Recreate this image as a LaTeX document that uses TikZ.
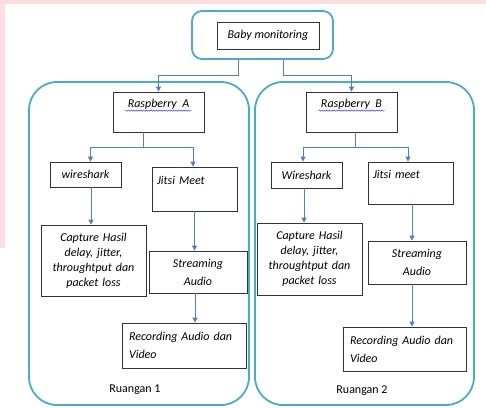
\documentclass[tikz,border=0pt]{standalone}
\usepackage{fontspec}
\setmainfont{Carlito}
\usetikzlibrary{arrows.meta,decorations.pathmorphing}
\definecolor{roomcyan}{RGB}{75,172,198}
\definecolor{linkblue}{RGB}{79,129,189}
\definecolor{pagepink}{RGB}{255,221,224}

\begin{document}
\begin{tikzpicture}[x=1pt, y=-1pt,
    every node/.style={font=\itshape\fontsize{12}{18}\selectfont},
    box/.style={draw=black!80, line width=0.8pt, inner sep=0pt, align=center},
    room/.style={draw=roomcyan, line width=1.8pt, rounded corners=28pt},
    link/.style={draw=linkblue, line width=1pt, -{Triangle[width=5pt,length=5pt]}},
    squig/.style={draw=blue!70, line width=0.5pt, decorate,
      decoration={snake, amplitude=0.7pt, segment length=2.5pt}}]
  \useasboundingbox (0,0) rectangle (486,407);
  % page background with pink edge
  \fill[white] (0,0) rectangle (486,407);
  \fill[pagepink] (0,0) rectangle (486,4);
  \fill[pagepink] (0,0) rectangle (5,248);
  % top box
  \node[draw=roomcyan, line width=1.8pt, rounded corners=10pt,
    minimum width=141, minimum height=48] (top) at (262.5,35) {};
  \node[box, minimum width=102, minimum height=27] (baby) at (268,35.5) {Baby monitoring};
  % room boxes
  \node[room, minimum width=220, minimum height=323] (roomA) at (139,243.5) {};
  \node[room, minimum width=219, minimum height=323] (roomB) at (364.5,243.5) {};
  \node[font=\fontsize{12}{14}\selectfont] (labA) at (135,390) {Ruangan 1};
  \node[font=\fontsize{12}{14}\selectfont] (labB) at (362,391) {Ruangan 2};
  % Ruangan 1
  \node[box, minimum width=91, minimum height=40] (rA) at (158.5,112) {Raspberry\ \ A\\ \mbox{}};
  \draw[squig] ([xshift=-33pt,yshift=-19pt]rA.north) -- ++(66,0);
  \node[box, minimum width=71, minimum height=25] (ws1) at (85.5,174.5) {wireshark};
  \node[box, minimum width=85, minimum height=44, text width=75, align=left] (jm1) at (194.5,189) {Jitsi Meet\\ \mbox{}};
  \node[box, minimum width=105, minimum height=71, text width=100,
    font=\itshape\fontsize{12}{15}\selectfont] (cap1) at (93.5,260.5)
    {Capture Hasil\\ delay, jitter,\\ throughtput dan\\ packet loss};
  \node[box, minimum width=98, minimum height=42, text width=90] (st1) at (198,272) {Streaming\\ Audio};
  \node[box, minimum width=124, minimum height=45, text width=110, align=left] (rec1) at (184,345.5)
    {Recording Audio dan\\ Video};
  % Ruangan 2
  \node[box, minimum width=91, minimum height=40] (rB) at (351.5,112) {Raspberry\ \ B\\ \mbox{}};
  \draw[squig] ([xshift=-33pt,yshift=-19pt]rB.north) -- ++(66,0);
  \node[box, minimum width=71, minimum height=26] (ws2) at (306.5,175) {Wireshark};
  \node[box, minimum width=85, minimum height=42, text width=75, align=left] (jm2) at (410.5,183) {Jitsi meet\\ \mbox{}};
  \node[box, minimum width=105, minimum height=72, text width=100,
    font=\itshape\fontsize{12}{15}\selectfont] (cap2) at (309.5,259)
    {Capture Hasil\\ delay, jitter,\\ throughtput dan\\ packet loss};
  \node[box, minimum width=98, minimum height=43, text width=90] (st2) at (417,262.5) {Streaming\\ Audio};
  \node[box, minimum width=123, minimum height=44, text width=109, align=left] (rec2) at (404.5,349)
    {Recording Audio dan\\ Video};
  % arrows
  \draw[link] ([xshift=-24.5pt]top.south) -- ++(0,16) -| (rA.north);
  \draw[link] ([xshift=20.5pt]top.south) -- ++(0,16) -| (rB.north);
  \draw[link] ([xshift=-15.5pt]rA.south) -- ++(0,15) -| ([xshift=5pt]ws1.north);
  \draw[link] ([xshift=-15.5pt]rA.south) -- ++(0,15) -| ([xshift=-1.5pt]jm1.north);
  \draw[link] ([xshift=3.5pt]rB.south) -- ++(0,15) -| ([xshift=-3.5pt]ws2.north);
  \draw[link] ([xshift=3.5pt]rB.south) -- ++(0,15) -| ([xshift=-2.5pt]jm2.north);
  \draw[link] ([xshift=5.5pt]ws1.south) -- ([xshift=5.5pt]ws1.south |- cap1.north);
  \draw[link] (jm1.south) -- (jm1.south |- st1.north);
  \draw[link] ([xshift=-3pt]st1.south) -- ([xshift=-3pt]st1.south |- rec1.north);
  \draw[link] ([xshift=-2.5pt]ws2.south) -- ([xshift=-2.5pt]ws2.south |- cap2.north);
  \draw[link] ([xshift=1.5pt]jm2.south) -- ([xshift=1.5pt]jm2.south |- st2.north);
  \draw[link] ([xshift=-5pt]st2.south) -- ([xshift=-5pt]st2.south |- rec2.north);
\end{tikzpicture}
\end{document}
